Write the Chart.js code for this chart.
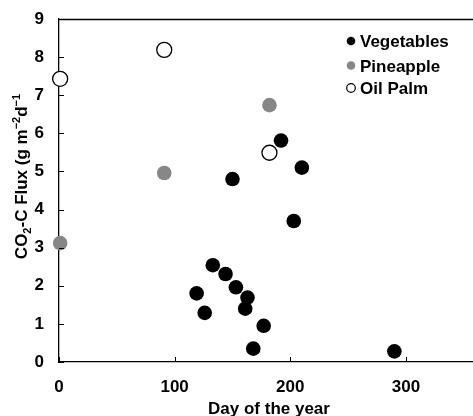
<!DOCTYPE html>
<html><head><meta charset="utf-8">
<script src="https://cdn.jsdelivr.net/npm/chart.js@4"></script>
<style>html,body{margin:0;padding:0;background:#fff}#w{width:473px;height:416px}</style>
</head><body><div id="w"><canvas id="c"></canvas></div>
<script>
const seriesNames = ["Vegetables", "Pineapple", "Oil Palm"];
const vegDays = [150, 192, 210, 203, 119, 126, 133, 144, 153, 163, 161, 177, 168, 290];
const vegFlux = [4.8, 5.81, 5.1, 3.7, 1.8, 1.29, 2.54, 2.31, 1.96, 1.69, 1.4, 0.95, 0.35, 0.28];
const pineDays = [1, 91, 182];
const pineFlux = [3.12, 4.96, 6.74];
const palmDays = [1, 91, 182];
const palmFlux = [7.43, 8.19, 5.49];
const xTicks = [0, 100, 200, 300];
const yTicks = [0, 1, 2, 3, 4, 5, 6, 7, 8, 9];
const xTitle = "Day of the year";
// y title pieces: [text, role] role: n=normal, sub=subscript, sup=superscript
const yTitleParts = [["CO", "n"], ["2", "sub"], ["-C Flux (g m", "n"], ["\u22122", "sup"], ["d", "n"], ["\u22121", "sup"]];

const pts = (xs, ys) => xs.map((x, i) => ({x: x, y: ys[i]}));
const FONT = "'Liberation Sans', Arial, sans-serif";

const decor = {
  id: 'decor',
  afterDraw(chart) {
    const {ctx, chartArea: a, scales: {x, y}} = chart;
    ctx.save();
    ctx.strokeStyle = '#000'; ctx.lineWidth = 1.3;
    ctx.beginPath();
    ctx.moveTo(a.left, a.top + 0.5); ctx.lineTo(chart.width, a.top + 0.5);
    ctx.stroke();
    ctx.lineWidth = 1;
    ctx.beginPath();
    xTicks.forEach(v => { const px = Math.round(x.getPixelForValue(v)) + 0.5; ctx.moveTo(px, a.bottom); ctx.lineTo(px, a.bottom - 5); });
    yTicks.forEach(v => { const py = Math.round(y.getPixelForValue(v)) + 0.5; ctx.moveTo(a.left, py); ctx.lineTo(a.left + 5, py); });
    ctx.stroke();

    // x title
    ctx.fillStyle = '#000';
    ctx.font = 'bold 17px ' + FONT;
    ctx.textAlign = 'center'; ctx.textBaseline = 'alphabetic';
    ctx.fillText(xTitle, (a.left + a.right) / 2 + 3, 414);

    // y title with sub/superscripts
    const big = 'bold 17px ' + FONT, small = 'bold 11px ' + FONT;
    let w = 0;
    yTitleParts.forEach(([t, r]) => { ctx.font = r === 'n' ? big : small; w += ctx.measureText(t).width; });
    ctx.save();
    ctx.translate(27, 176.5);
    ctx.rotate(-Math.PI / 2);
    ctx.textAlign = 'left';
    let cx = -w / 2;
    yTitleParts.forEach(([t, r]) => {
      ctx.font = r === 'n' ? big : small;
      const dy = r === 'sub' ? 4 : (r === 'sup' ? -7 : 0);
      ctx.fillText(t, cx, dy);
      cx += ctx.measureText(t).width;
    });
    ctx.restore();

    // legend
    const ly = [41, 65.5, 88];
    ctx.font = 'bold 17px ' + FONT;
    ctx.textAlign = 'left'; ctx.textBaseline = 'alphabetic';
    chart.data.datasets.forEach((ds, i) => {
      ctx.beginPath();
      ctx.arc(351, ly[i], 4.3, 0, Math.PI * 2);
      ctx.fillStyle = ds.backgroundColor; ctx.fill();
      ctx.lineWidth = 1.2; ctx.strokeStyle = '#000';
      if (ds.pointBorderWidth > 0) ctx.stroke();
      ctx.fillStyle = '#000';
      ctx.fillText(ds.label, 360, ly[i] + 6);
    });
    ctx.restore();
  }
};

new Chart(document.getElementById('c'), {
  type: 'scatter',
  data: {
    datasets: [
      {label: seriesNames[0], data: pts(vegDays, vegFlux), backgroundColor: '#000', pointBorderColor: '#000', pointRadius: 7.3, pointBorderWidth: 0, clip: false},
      {label: seriesNames[1], data: pts(pineDays, pineFlux), backgroundColor: '#878787', pointBorderColor: '#878787', pointRadius: 7.3, pointBorderWidth: 0, clip: false},
      {label: seriesNames[2], data: pts(palmDays, palmFlux), backgroundColor: '#fff', pointBorderColor: '#000', pointRadius: 7.5, pointBorderWidth: 1.3, clip: false}
    ]
  },
  options: {
    responsive: true, maintainAspectRatio: false, animation: false,
    layout: {autoPadding: false, padding: {top: 19, left: 0, right: 0, bottom: 0}},
    plugins: {legend: {display: false}, tooltip: {enabled: false}},
    scales: {
      x: {
        type: 'linear', min: 0, max: 358,
        afterBuildTicks: s => { s.ticks = xTicks.map(v => ({value: v})); },
        afterFit: s => { s.height = 54; s.paddingLeft = 0; s.paddingRight = 0; },
        grid: {display: true, drawOnChartArea: false, drawTicks: false},
        border: {color: '#000', width: 1.3},
        ticks: {color: '#000', padding: 15, maxRotation: 0, font: {family: FONT, size: 17, weight: 'bold'}},
        title: {display: false}
      },
      y: {
        type: 'linear', min: 0, max: 9,
        afterBuildTicks: s => { s.ticks = yTicks.map(v => ({value: v})); },
        afterFit: s => { s.width = 59; s.paddingTop = 0; s.paddingBottom = 0; },
        grid: {display: true, drawOnChartArea: false, drawTicks: false},
        border: {color: '#000', width: 1.3},
        ticks: {color: '#000', padding: 15, font: {family: FONT, size: 17, weight: 'bold'}},
        title: {display: false}
      }
    }
  },
  plugins: [decor]
});
</script></body></html>
